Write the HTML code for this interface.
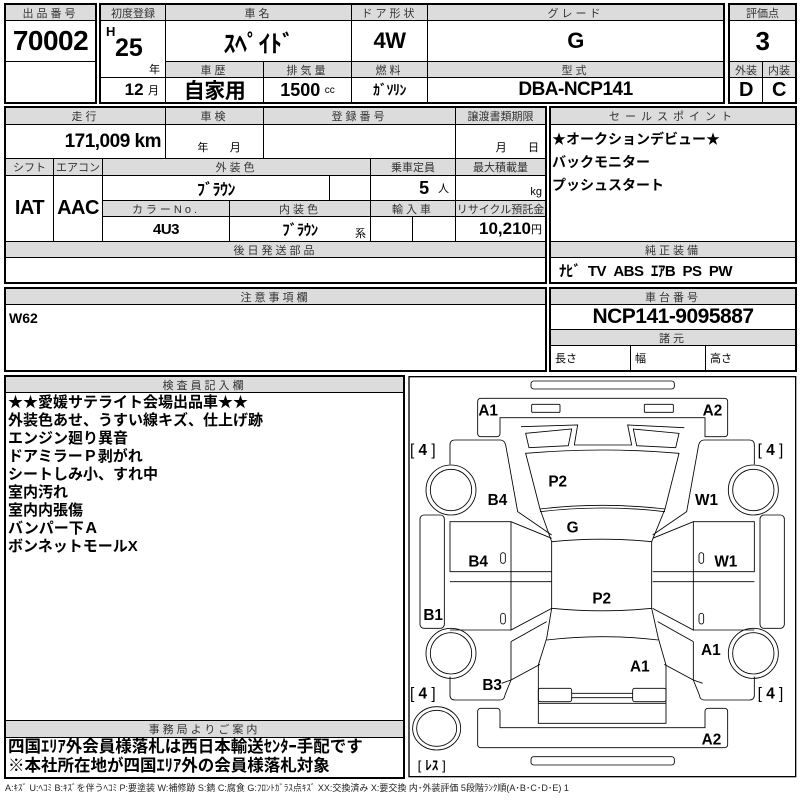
<!DOCTYPE html>
<html><head><meta charset="utf-8"><style>
*{box-sizing:border-box;margin:0;padding:0}
body{width:800px;height:800px;background:#fff;position:relative;overflow:hidden;font-family:"Liberation Sans","Noto Sans CJK JP",sans-serif;color:#000}
.c{position:absolute;border:1px solid #000;display:flex;align-items:center;justify-content:center;white-space:nowrap;overflow:hidden}
.h{background:#dcdcdc;font-size:11px;color:#333;letter-spacing:3px}
.v{font-weight:bold;font-size:20px;letter-spacing:-0.5px}
.o{position:absolute;border:2px solid #000}
.t{position:absolute;white-space:nowrap}
</style></head><body>
<!-- top section -->
<div class="c h" style="left:5px;top:4px;width:91px;height:17px">出品番号</div>
<div class="c v" style="left:5px;top:20px;width:91px;height:42px;font-size:28px">70002</div>
<div class="c" style="left:5px;top:61px;width:91px;height:42px"></div>
<div class="o" style="left:4px;top:3px;width:93px;height:101px"></div>

<div class="c h" style="left:100px;top:4px;width:66px;height:17px;letter-spacing:0">初度登録</div>
<div class="c h" style="left:165px;top:4px;width:187px;height:17px">車名</div>
<div class="c h" style="left:351px;top:4px;width:77px;height:17px">ドア形状</div>
<div class="c h" style="left:427px;top:4px;width:297px;height:17px">グレード</div>
<div class="c" style="left:100px;top:20px;width:66px;height:58px"></div>
<div class="t" style="left:106px;top:24px;font-weight:bold;font-size:13px">H</div>
<div class="t" style="left:115px;top:34px;font-weight:bold;font-size:25px">25</div>
<div class="t" style="left:149px;top:61px;font-size:11px">年</div>
<div class="c v" style="left:165px;top:20px;width:187px;height:42px;font-size:24px">ｽﾍﾟｲﾄﾞ</div>
<div class="c v" style="left:351px;top:20px;width:77px;height:42px;font-size:22px">4W</div>
<div class="c v" style="left:427px;top:20px;width:297px;height:42px;font-size:22px">G</div>
<div class="c h" style="left:165px;top:61px;width:99px;height:17px">車歴</div>
<div class="c h" style="left:263px;top:61px;width:89px;height:17px">排気量</div>
<div class="c h" style="left:351px;top:61px;width:77px;height:17px">燃料</div>
<div class="c h" style="left:427px;top:61px;width:297px;height:17px">型式</div>
<div class="c" style="left:100px;top:77px;width:66px;height:26px;justify-content:flex-end;padding-right:6px"><b style="font-size:17px">12</b>&nbsp;<span style="font-size:11px">月</span></div>
<div class="c v" style="left:165px;top:77px;width:99px;height:26px;font-size:21px">自家用</div>
<div class="c" style="left:263px;top:77px;width:89px;height:26px"><b style="font-size:18px">1500</b>&nbsp;<span style="font-size:10px">cc</span></div>
<div class="c v" style="left:351px;top:77px;width:77px;height:26px;font-size:14px">ｶﾞｿﾘﾝ</div>
<div class="c v" style="left:427px;top:77px;width:297px;height:26px;font-size:19px">DBA-NCP141</div>
<div class="o" style="left:99px;top:3px;width:626px;height:101px"></div>

<div class="c h" style="left:729px;top:4px;width:67px;height:17px;letter-spacing:0">評価点</div>
<div class="c v" style="left:729px;top:20px;width:67px;height:42px;font-size:26px">3</div>
<div class="c h" style="left:729px;top:61px;width:34px;height:17px;letter-spacing:0">外装</div>
<div class="c h" style="left:762px;top:61px;width:34px;height:17px;letter-spacing:0">内装</div>
<div class="c v" style="left:729px;top:77px;width:34px;height:26px">D</div>
<div class="c v" style="left:762px;top:77px;width:34px;height:26px">C</div>
<div class="o" style="left:728px;top:3px;width:69px;height:101px"></div>

<!-- second section -->
<div class="c h" style="left:5px;top:107px;width:161px;height:18px">走行</div>
<div class="c h" style="left:165px;top:107px;width:99px;height:18px">車検</div>
<div class="c h" style="left:263px;top:107px;width:193px;height:18px">登録番号</div>
<div class="c h" style="left:455px;top:107px;width:91px;height:18px;letter-spacing:0">譲渡書類期限</div>
<div class="c v" style="left:5px;top:124px;width:161px;height:35px;justify-content:flex-end;padding-right:4px;font-size:19px">171,009 km</div>
<div class="c" style="left:165px;top:124px;width:99px;height:35px;font-size:11px;align-items:flex-end;padding-bottom:3px">&nbsp;&nbsp;&nbsp;年&nbsp;&nbsp;&nbsp;&nbsp;&nbsp;&nbsp;&nbsp;月</div>
<div class="c" style="left:263px;top:124px;width:193px;height:35px"></div>
<div class="c" style="left:455px;top:124px;width:91px;height:35px;font-size:11px;align-items:flex-end;padding-bottom:3px;justify-content:flex-end;padding-right:6px">月&nbsp;&nbsp;&nbsp;&nbsp;&nbsp;&nbsp;&nbsp;日</div>
<div class="c h" style="left:5px;top:158px;width:49px;height:18px;letter-spacing:0">シフト</div>
<div class="c h" style="left:53px;top:158px;width:50px;height:18px;letter-spacing:0">エアコン</div>
<div class="c h" style="left:102px;top:158px;width:269px;height:18px">外装色</div>
<div class="c h" style="left:370px;top:158px;width:86px;height:18px;letter-spacing:0">乗車定員</div>
<div class="c h" style="left:455px;top:158px;width:91px;height:18px;letter-spacing:0">最大積載量</div>
<div class="c v" style="left:5px;top:175px;width:49px;height:67px">IAT</div>
<div class="c v" style="left:53px;top:175px;width:50px;height:67px">AAC</div>
<div class="c v" style="left:102px;top:175px;width:228px;height:26px;font-size:16px">ﾌﾞﾗｳﾝ</div>
<div class="c" style="left:329px;top:175px;width:42px;height:26px"></div>
<div class="c" style="left:370px;top:175px;width:86px;height:26px;justify-content:flex-end;padding-right:6px"><b style="font-size:18px">5</b>&nbsp;&nbsp;<span style="font-size:11px">人</span></div>
<div class="c" style="left:455px;top:175px;width:91px;height:26px;justify-content:flex-end;padding-right:3px;font-size:11px;align-items:flex-end;padding-bottom:2px">kg</div>
<div class="c h" style="left:102px;top:200px;width:128px;height:17px">カラーNo.</div>
<div class="c h" style="left:229px;top:200px;width:142px;height:17px">内装色</div>
<div class="c h" style="left:370px;top:200px;width:86px;height:17px">輸入車</div>
<div class="c h" style="left:455px;top:200px;width:91px;height:17px;letter-spacing:0">リサイクル預託金</div>
<div class="c v" style="left:102px;top:216px;width:128px;height:26px;font-size:15px">4U3</div>
<div class="c v" style="left:229px;top:216px;width:142px;height:26px;font-size:15px">ﾌﾞﾗｳﾝ</div>
<div class="t" style="left:355px;top:225px;font-size:11px">系</div>
<div class="c" style="left:370px;top:216px;width:43px;height:26px"></div>
<div class="c" style="left:412px;top:216px;width:44px;height:26px"></div>
<div class="c" style="left:455px;top:216px;width:91px;height:26px;justify-content:flex-end;padding-right:3px"><b style="font-size:17px">10,210</b><span style="font-size:11px">円</span></div>
<div class="c h" style="left:5px;top:241px;width:541px;height:17px">後日発送部品</div>
<div class="c" style="left:5px;top:257px;width:541px;height:26px"></div>
<div class="o" style="left:4px;top:106px;width:543px;height:178px"></div>

<div class="c h" style="left:550px;top:107px;width:246px;height:18px;letter-spacing:5px">セールスポイント</div>
<div class="c" style="left:550px;top:124px;width:246px;height:118px"></div>
<div class="t" style="left:552px;top:128px;font-weight:bold;font-size:14px;line-height:23px">★オークションデビュー★<br>バックモニター<br>プッシュスタート</div>
<div class="c h" style="left:550px;top:241px;width:246px;height:17px">純正装備</div>
<div class="c v" style="left:550px;top:257px;width:246px;height:26px;font-size:15px;justify-content:flex-start;padding-left:8px">ﾅﾋﾞ&nbsp;&nbsp;TV&nbsp;&nbsp;ABS&nbsp;&nbsp;ｴｱB&nbsp;&nbsp;PS&nbsp;&nbsp;PW</div>
<div class="o" style="left:549px;top:106px;width:248px;height:178px"></div>

<!-- third section -->
<div class="c h" style="left:5px;top:288px;width:541px;height:17px">注意事項欄</div>
<div class="c" style="left:5px;top:304px;width:541px;height:67px"></div>
<div class="t" style="left:9px;top:310px;font-weight:bold;font-size:14px">W62</div>
<div class="o" style="left:4px;top:287px;width:543px;height:85px"></div>
<div class="c h" style="left:550px;top:288px;width:246px;height:17px">車台番号</div>
<div class="c v" style="left:550px;top:304px;width:246px;height:26px;font-size:21px">NCP141-9095887</div>
<div class="c h" style="left:550px;top:329px;width:246px;height:17px">諸元</div>
<div class="c" style="left:550px;top:345px;width:81px;height:26px;font-size:11px;justify-content:flex-start;padding-left:4px">長さ</div>
<div class="c" style="left:630px;top:345px;width:76px;height:26px;font-size:11px;justify-content:flex-start;padding-left:4px">幅</div>
<div class="c" style="left:705px;top:345px;width:91px;height:26px;font-size:11px;justify-content:flex-start;padding-left:4px">高さ</div>
<div class="o" style="left:549px;top:287px;width:248px;height:85px"></div>

<!-- inspector -->
<div class="c h" style="left:5px;top:376px;width:399px;height:17px">検査員記入欄</div>
<div class="c" style="left:5px;top:392px;width:399px;height:329px"></div>
<div class="t" style="left:8px;top:394px;font-weight:bold;font-size:15px;line-height:18px">★★愛媛サテライト会場出品車★★<br>外装色あせ、うすい線キズ、仕上げ跡<br>エンジン廻り異音<br>ドアミラーＰ剥がれ<br>シートしみ小、すれ中<br>室内汚れ<br>室内内張傷<br>バンパー下Ａ<br>ボンネットモールX</div>
<div class="c h" style="left:5px;top:720px;width:399px;height:18px">事務局よりご案内</div>
<div class="c" style="left:5px;top:737px;width:399px;height:41px"></div>
<div class="t" style="left:8px;top:738px;font-weight:bold;font-size:16.5px;line-height:19px">四国ｴﾘｱ外会員様落札は西日本輸送ｾﾝﾀｰ手配です<br>※本社所在地が四国ｴﾘｱ外の会員様落札対象</div>
<div class="o" style="left:4px;top:375px;width:401px;height:404px"></div>

<!-- diagram -->
<svg style="position:absolute;left:405px;top:375px" width="395" height="425" viewBox="0 0 1185 1275">
<g fill="none" stroke="#000" stroke-width="2.6">
<rect x="12" y="5" width="1160" height="1200" stroke-width="4"/>
<rect x="378" y="18" width="430" height="24" rx="8"/>
<rect x="378" y="1145" width="430" height="25" rx="8"/>
<path d="M228,70H958Q968,70 968,80V175Q968,185 958,185H900V128H285V175Q285,185 275,185H228Q218,185 218,175V80Q218,70 228,70Z"/>
<path d="M228,1000H275Q285,1000 285,1010V1058H900V1010Q900,1000 910,1000H958Q968,1000 968,1010V1108Q968,1118 958,1118H228Q218,1118 218,1108V1010Q218,1000 228,1000Z"/>
<rect x="380" y="88" width="85" height="24" rx="3"/>
<rect x="718" y="88" width="87" height="24" rx="3"/>
<path d="M348,155L518,150L508,210L680,210L668,150L838,158"/>
<path d="M362,175L500,162L490,212L372,218Z"/>
<path d="M685,162L822,175L812,218L695,212Z"/>
<path d="M362,235Q592,215 822,235L780,402Q592,380 405,402Z"/>
<path d="M405,410Q592,388 780,410"/>
<path d="M405,402L440,500Q592,485 740,500L780,402"/>
<path d="M440,500V700Q592,715 740,700V500"/>
<path d="M440,700L425,790L400,870V1045H783V870L760,790L740,700"/>
<path d="M425,795Q592,775 760,795"/>
<rect x="400" y="940" width="100" height="40" rx="6"/>
<rect x="683" y="940" width="100" height="40" rx="6"/>
<path d="M500,955H683M500,968H683"/>
<path d="M400,985H783"/>
<g id="L">
<path d="M135,268V210Q135,195 150,195H285Q300,195 303,215L338,410L440,480"/>
<path d="M440,490L318,440H135V590H440M135,620H440M318,440V765L440,700M135,765H318"/>
<path d="M318,800L425,740M318,800V915L405,868M318,915L290,925"/>
<path d="M135,905V960Q135,975 150,975H285Q298,975 300,960L318,915"/>
<circle cx="138" cy="345" r="75"/><circle cx="138" cy="345" r="62"/>
<circle cx="138" cy="835" r="75"/><circle cx="138" cy="835" r="62"/>
<rect x="45" y="420" width="73" height="340" rx="12"/>
<rect x="287" y="533" width="14" height="32" rx="7"/>
<rect x="287" y="715" width="14" height="32" rx="7"/>
</g>
<use href="#L" transform="translate(1183,0) scale(-1,1)"/>
<ellipse cx="95" cy="1060" rx="72" ry="65"/><ellipse cx="95" cy="1060" rx="60" ry="54"/>
</g>
<g font-family="Liberation Sans, Noto Sans CJK JP, sans-serif" font-weight="bold" font-size="46" fill="#000">
<text x="220" y="122">A1</text><text x="893" y="122">A2</text>
<text x="15" y="240" font-weight="normal">[ <tspan font-weight="bold">4</tspan> ]</text>
<text x="1058" y="240" font-weight="normal">[ <tspan font-weight="bold">4</tspan> ]</text>
<text x="15" y="970" font-weight="normal">[ <tspan font-weight="bold">4</tspan> ]</text>
<text x="1058" y="970" font-weight="normal">[ <tspan font-weight="bold">4</tspan> ]</text>
<text x="430" y="335">P2</text><text x="248" y="390">B4</text><text x="870" y="390">W1</text>
<text x="485" y="472">G</text><text x="190" y="575">B4</text><text x="928" y="575">W1</text>
<text x="562" y="685">P2</text><text x="55" y="735">B1</text><text x="888" y="840">A1</text>
<text x="675" y="890">A1</text><text x="232" y="945">B3</text><text x="890" y="1108">A2</text>
<text x="38" y="1185" font-size="40" font-weight="normal">[ <tspan font-weight="bold">ﾚｽ</tspan> ]</text>
</g>
</svg>
<div class="t" style="left:5px;top:781px;font-size:9px;color:#222">A:ｷｽﾞ U:ﾍｺﾐ B:ｷｽﾞを伴うﾍｺﾐ P:要塗装 W:補修跡 S:錆 C:腐食 G:ﾌﾛﾝﾄｶﾞﾗｽ点ｷｽﾞ XX:交換済み X:要交換 内･外装評価 5段階ﾗﾝｸ順(A･B･C･D･E) 1</div>
</body></html>
